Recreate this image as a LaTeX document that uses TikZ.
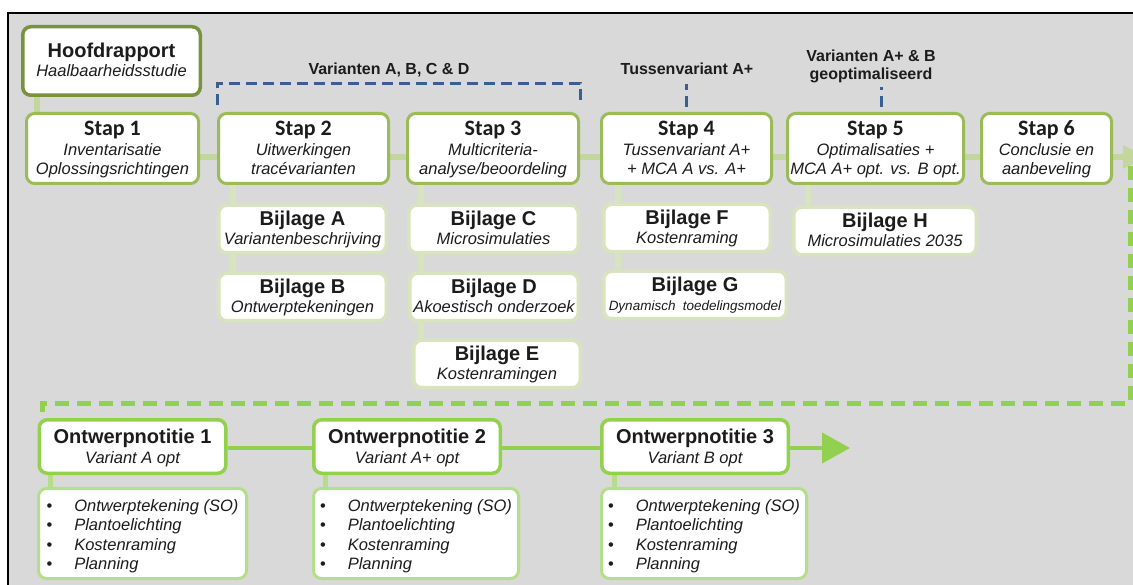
\documentclass[tikz,border=0pt]{standalone}
\usepackage{fontspec}
\setmainfont{Liberation Sans}
\newfontfamily\carlito{Carlito}
\usetikzlibrary{arrows.meta,backgrounds}
\definecolor{bggray}{HTML}{D9D9D9}
\definecolor{olive}{HTML}{77933C}
\definecolor{stapg}{HTML}{9BBB59}
\definecolor{lineg}{HTML}{C3D69B}
\definecolor{bijg}{HTML}{D7E4BD}
\definecolor{ontg}{HTML}{92D050}
\definecolor{listg}{HTML}{B5DE8C}
\definecolor{blu}{HTML}{376092}
\definecolor{txt}{HTML}{1C1C1C}
\newcommand\fHead{\upshape\bfseries\fontsize{20}{19.5}\selectfont}
\newcommand\fStap{\carlito\upshape\bfseries\fontsize{22}{19.5}\selectfont}
\newcommand\fIt{\itshape\fontsize{16.5}{19.5}\selectfont}
\newcommand\fSmall{\itshape\fontsize{13.5}{19.5}\selectfont}
\newcommand\fLab{\bfseries\fontsize{16}{18}\selectfont}
\newcommand\listitems{\begin{tabular}{@{}l@{\hspace{22pt}}l@{}}\rule{0pt}{19.6pt}\upshape\textbullet & Ontwerptekening (SO)\\ \upshape\textbullet & Plantoelichting\\ \upshape\textbullet & Kostenraming\\ \upshape\textbullet & Planning\end{tabular}}
\tikzset{
 basebox/.style={rounded corners=8pt, fill=white, align=center, inner sep=0pt, text=txt, font=\fIt},
 hoofbox/.style={basebox, draw=olive, line width=3.5pt, text height=37pt, text depth=5pt},
 stapbox/.style={basebox, draw=stapg, line width=3pt, minimum height=70pt, text height=58pt, text depth=5pt},
 bijbox/.style={basebox, draw=bijg, line width=3.5pt, minimum height=47.5pt, text height=37pt, text depth=5pt},
 ontbox/.style={basebox, draw=ontg, line width=3.5pt, minimum height=53.5pt, minimum width=186.5pt, text height=38pt, text depth=5pt},
 listbox/.style={basebox, draw=listg, line width=3pt, minimum height=90pt, minimum width=205pt},
 stapline/.style={draw=lineg, line width=5.5pt},
 bijline/.style={draw=bijg, line width=6pt},
 ontline/.style={draw=ontg, line width=4pt},
 listline/.style={draw=listg, line width=5pt},
 dashline/.style={draw=ontg, line width=5pt, dash pattern=on 14pt off 8pt},
 bluedash/.style={draw=blu, line width=3pt, dash pattern=on 11pt off 6pt},
 lab/.style={font=\fLab, text=txt, inner sep=0pt},
}
\begin{document}
\begin{tikzpicture}[x=1pt,y=-1pt]
\useasboundingbox (0,0) rectangle (1133,585);
\begin{pgfonlayer}{background}
\fill[white] (0,0) rectangle (1133,585);
\fill[bggray] (8,13) rectangle (1133,585);
\draw[black,line width=1.5pt] (8,585) -- (8,13) -- (1133,13);
\end{pgfonlayer}

% top row
\node[hoofbox, minimum width=177.5pt, minimum height=68.5pt] (hoof) at (111.5,61) {{\fHead Hoofdrapport}\\Haalbaarheidsstudie};
\node[stapbox, minimum width=172pt] (stap1) at (112.5,148.5) {{\fStap Stap 1}\\Inventarisatie\\Oplossingsrichtingen};
\node[stapbox, minimum width=170pt] (stap2) at (303.5,148.5) {{\fStap Stap 2}\\Uitwerkingen\\tracévarianten};
\node[stapbox, minimum width=171pt] (stap3) at (493,148.5) {{\fStap Stap 3}\\Multicriteria-\\analyse/beoordeling};
\node[stapbox, minimum width=170pt] (stap4) at (686.5,148.5) {{\fStap Stap 4}\\Tussenvariant A+\\+ MCA A vs. A+};
\node[stapbox, minimum width=176pt] (stap5) at (875.5,148.5) {{\fStap Stap 5}\\Optimalisaties +\\MCA A+ opt. vs. B opt.};
\node[stapbox, minimum width=130pt] (stap6) at (1046.5,148.5) {{\fStap Stap 6}\\Conclusie en\\aanbeveling};

% bijlagen
\node[bijbox, minimum width=167.5pt] (bA) at (302.5,229) {{\fHead Bijlage A}\\Variantenbeschrijving};
\node[bijbox, minimum width=167.5pt] (bB) at (302.5,297) {{\fHead Bijlage B}\\Ontwerptekeningen};
\node[bijbox, minimum width=169.5pt] (bC) at (493.5,229) {{\fHead Bijlage C}\\Microsimulaties};
\node[bijbox, minimum width=168.5pt] (bD) at (494,297) {{\fHead Bijlage D}\\Akoestisch onderzoek};
\node[bijbox, minimum width=166.5pt] (bE) at (497,364) {{\fHead Bijlage E}\\Kostenramingen};
\node[bijbox, minimum width=166.5pt] (bF) at (687,228) {{\fHead Bijlage F}\\Kostenraming};
\node[bijbox, minimum width=182.5pt] (bG) at (695,295) {{\fHead Bijlage G}\\{\fSmall Dynamisch\hspace{0.55em}toedelingsmodel}};
\node[bijbox, minimum width=182.5pt] (bH) at (885,231) {{\fHead Bijlage H}\\Microsimulaties 2035};

% labels
\node[lab, anchor=base] (labA) at (389,75) {Varianten A, B, C \& D};
\node[lab, anchor=base] (labB) at (687,75) {Tussenvariant A+};
\node[lab, align=center] (labC) at (871,66) {Varianten A+ \& B\\geoptimaliseerd};

% bottom row
\node[ontbox] (on1) at (132.5,446.5) {{\fHead Ontwerpnotitie 1}\\Variant A opt};
\node[ontbox] (on2) at (407,446.5) {{\fHead Ontwerpnotitie 2}\\Variant A+ opt};
\node[ontbox] (on3) at (695,446.5) {{\fHead Ontwerpnotitie 3}\\Variant B opt};

\node[listbox, minimum width=208pt] (l1) at (142.5,533.5) {\listitems};
\node[listbox] (l2) at (416,533.5) {\listitems};
\node[listbox] (l3) at (704,533.5) {\listitems};

\coordinate (s6end) at (1147,157);
\coordinate (d1) at (1130,166);
\coordinate (d2) at (1130,403);
\coordinate (d3) at (42,403);
\coordinate (onEnd) at (850,448);

\begin{pgfonlayer}{background}
\begin{scope}
\clip (0,0) rectangle (1133,585);
% stap chain
\draw[stapline] ([xshift=-74.5pt]hoof.south) -- ([xshift=-75.5pt]stap1.north);
\draw[stapline] ([yshift=-8.5pt]stap1.east) -- ([yshift=-8.5pt]stap2.west);
\draw[stapline] ([yshift=-8.5pt]stap2.east) -- ([yshift=-8.5pt]stap3.west);
\draw[stapline] ([yshift=-8.5pt]stap3.east) -- ([yshift=-8.5pt]stap4.west);
\draw[stapline] ([yshift=-8.5pt]stap4.east) -- ([yshift=-8.5pt]stap5.west);
\draw[stapline] ([yshift=-8.5pt]stap5.east) -- ([yshift=-8.5pt]stap6.west);
\draw[stapline, -{Triangle[length=24pt,width=22pt]}] ([yshift=-8.5pt]stap6.east) -- (s6end);
% bijlage connectors
\draw[bijline] ([xshift=-70.5pt]stap2.south) -- ([xshift=-69.5pt]bA.north);
\draw[bijline] ([xshift=-69.5pt]bA.south) -- ([xshift=-69.5pt]bB.north);
\draw[bijline] ([xshift=-72pt]stap3.south) -- ([xshift=-72.5pt]bC.north);
\draw[bijline] ([xshift=-72.5pt]bC.south) -- ([xshift=-73pt]bD.north);
\draw[bijline] ([xshift=-73pt]bD.south) -- ([xshift=-76pt]bE.north);
\draw[bijline] ([xshift=-68.5pt]stap4.south) -- ([xshift=-69pt]bF.north);
\draw[bijline] ([xshift=-69pt]bF.south) -- ([xshift=-77pt]bG.north);
\draw[bijline] ([xshift=-67.5pt]stap5.south) -- ([xshift=-77pt]bH.north);
% blue brackets
\draw[bluedash] ([yshift=6.5pt]stap2.north west) -- ([yshift=28.5pt]stap2.north west) -- ([yshift=28.5pt]stap3.north east) -- ([yshift=6.5pt]stap3.north east);
\draw[bluedash] ([yshift=5pt]stap4.north) -- ([yshift=28pt]stap4.north);
\draw[bluedash] ([xshift=5.5pt,yshift=5pt]stap5.north) -- ([xshift=5.5pt,yshift=25pt]stap5.north);
% dashed return line
\draw[dashline] (d1) -- (d2) -- (d3) -- (d3 |- on1.north);
% ontwerpnotitie chain
\draw[ontline] ([yshift=-1.5pt]on1.east) -- ([yshift=-1.5pt]on2.west);
\draw[ontline] ([yshift=-1.5pt]on2.east) -- ([yshift=-1.5pt]on3.west);
\draw[ontline, -{Triangle[length=28pt,width=30pt]}] ([yshift=-1.5pt]on3.east) -- (onEnd);
\draw[listline] ([xshift=-82.5pt]on1.south) -- ([xshift=-92.5pt]l1.north);
\draw[listline] ([xshift=-82pt]on2.south) -- ([xshift=-91pt]l2.north);
\draw[listline] ([xshift=-81pt]on3.south) -- ([xshift=-90pt]l3.north);
\end{scope}
\end{pgfonlayer}
\end{tikzpicture}
\end{document}
